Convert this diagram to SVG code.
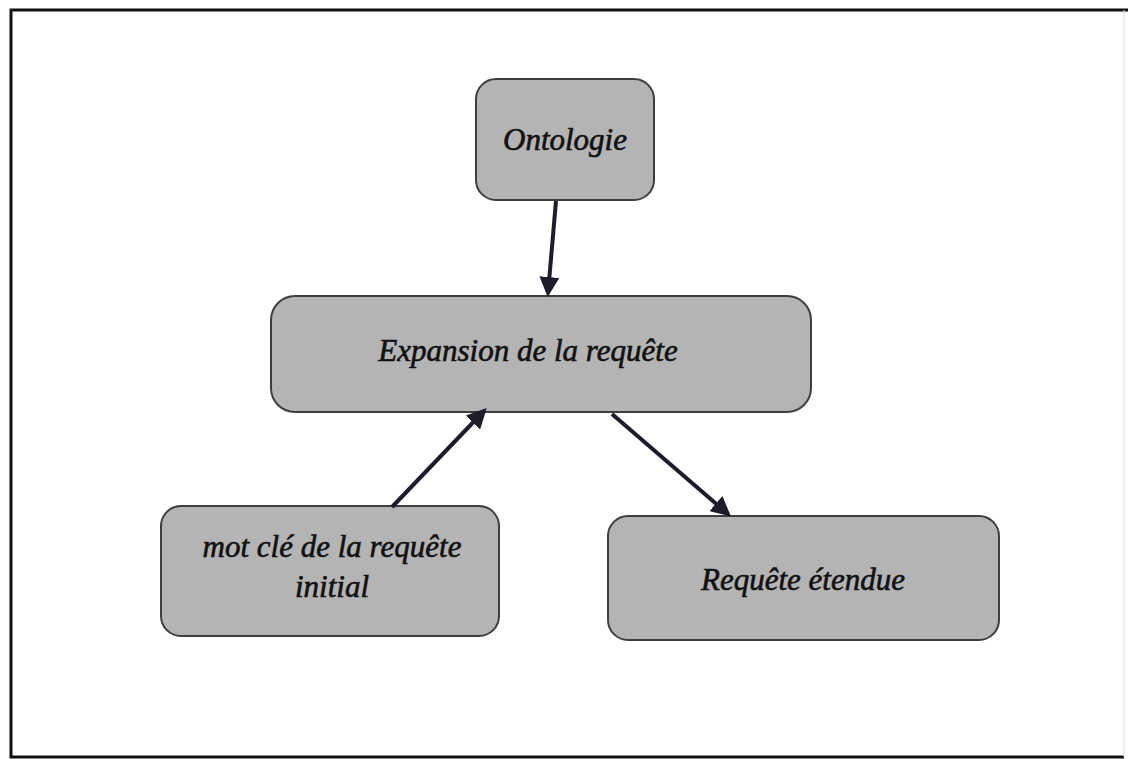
<svg xmlns="http://www.w3.org/2000/svg" width="1128" height="759" viewBox="0 0 1128 759">
<style>
.node{fill:#b4b4b4;stroke:#3e3e3e;stroke-width:2}
.lbl{font-family:"Liberation Serif",serif;font-style:italic;font-size:31px;fill:#111;stroke:#111;stroke-width:0.6;text-anchor:middle}
.conn{stroke:#1c1c2a;stroke-width:4;fill:none}
</style>
<defs>
<marker id="ah" markerWidth="5" markerHeight="5" refX="4" refY="2.5" orient="auto" markerUnits="strokeWidth">
<path d="M0,0 L5,2.5 L0,5 Z" fill="#1c1c2a"/>
</marker>
</defs>
<rect x="0" y="0" width="1128" height="759" fill="#fff"/>
<path d="M1128,10 L11,10 L11,757 L1124,757" fill="none" stroke="#111" stroke-width="3"/>
<path d="M1124,757 L1124,10" fill="none" stroke="#ddd" stroke-width="1"/>
<g id="n-ontologie">
<rect class="node" x="476" y="79" width="178" height="121" rx="20"/>
<text class="lbl" x="565" y="150">Ontologie</text>
</g>
<g id="n-expansion">
<rect class="node" x="271" y="296" width="540" height="116" rx="24"/>
<text class="lbl" x="528" y="361">Expansion de la requête</text>
</g>
<g id="n-motcle">
<rect class="node" x="161" y="506" width="338" height="130" rx="20"/>
<text class="lbl" x="332" y="557">mot clé de la requête</text>
<text class="lbl" x="332" y="597">initial</text>
</g>
<g id="n-etendue">
<rect class="node" x="608" y="516" width="391" height="124" rx="20"/>
<text class="lbl" x="803" y="590">Requête étendue</text>
</g>
<g id="connectors">
<line class="conn" x1="556" y1="201" x2="548" y2="293" marker-end="url(#ah)"/>
<line class="conn" x1="392" y1="507" x2="484" y2="411" marker-end="url(#ah)"/>
<line class="conn" x1="612" y1="414" x2="728" y2="514" marker-end="url(#ah)"/>
</g>
</svg>
